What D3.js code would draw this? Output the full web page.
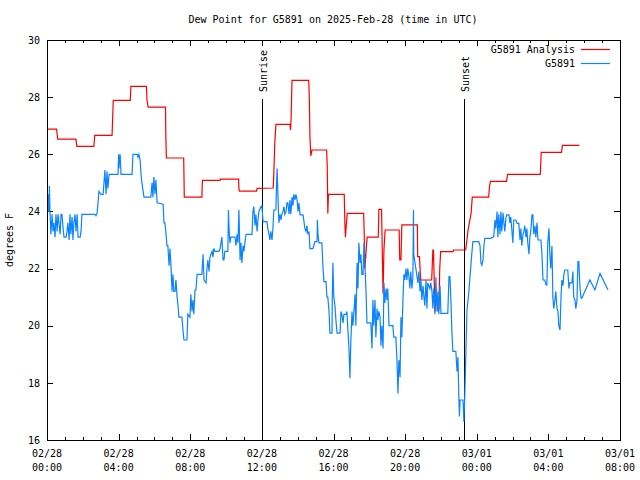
<!DOCTYPE html>
<html><head><meta charset="utf-8">
<script src="https://cdn.jsdelivr.net/npm/d3@7"></script>
<style>
body{margin:0;background:#fff}
svg text{font-family:"DejaVu Sans Mono","Liberation Mono",monospace;font-size:10px;fill:#000}
</style>
</head><body><svg id="c" width="640" height="480"></svg>
<script>
const chartTitle = "Dew Point for G5891 on 2025-Feb-28 (time in UTC)";
const yAxisLabel = "degrees F";
const startTime = "2025-02-28T00:00:00Z";
const endTime = "2025-03-01T08:00:00Z";
const yTickValues = [16, 18, 20, 22, 24, 26, 28, 30];
const seriesNames = ["G5891 Analysis", "G5891"];
const seriesColors = ["#ff0000", "#0a84ff"];
const sunEvents = [
  {label: "Sunrise", minute: 721},
  {label: "Sunset", minute: 1398}
];
// [minutes after 02/28 00:00 UTC, degrees F]
const analysis = [[0,26.88],[32,26.88],[34,26.7],[36,26.53],[97,26.53],[100,26.28],[157,26.28],[160,26.66],
[218,26.66],[220,27.26],[222,27.89],[279,27.89],[281,28.38],[333,28.38],[335,27.9],[339,27.65],[397,27.65],
[398,26.73],[400,25.87],[458,25.87],[459,25.22],[460,24.5],[519,24.5],[520,24.9],[521,25.09],[580,25.09],
[581,25.13],[642,25.13],[643,24.8],[645,24.71],[702,24.71],[704,24.81],[758,24.82],[760,25.31],[763,26.33],
[767,27.05],[814,27.05],[816,26.85],[818,27.26],[821,28.59],[877,28.59],[879,27.96],[881,26.62],[884,25.94],
[888,26.15],[937,26.15],[939,25.59],[941,23.93],[943,24.6],[996,24.6],[998,23.6],[1000,23.1],[1002,23.4],
[1006,23.93],[1061,23.93],[1063,23.2],[1065,22.0],[1068,22.4],[1071,22.9],[1073,23.1],[1110,23.1],[1112,24.07],
[1121,24.07],[1126,21.13],[1129,22.65],[1133,23.35],[1180,23.35],[1182,22.3],[1186,22.3],[1189,23.53],
[1241,23.53],[1242,22.42],[1248,22.42],[1252,21.6],[1289,21.6],[1293,22.65],[1295,22.65],[1300,20.49],
[1304,21.13],[1310,20.5],[1313,20.6],[1316,22.0],[1319,22.59],[1361,22.59],[1362,22.65],[1403,22.65],
[1407,23.0],[1411,23.35],[1416,23.64],[1421,23.93],[1425,24.5],[1480,24.5],[1483,24.9],[1486,25.05],
[1540,25.05],[1543,25.3],[1653,25.3],[1656,26.07],[1724,26.07],[1727,26.31],[1784,26.31]];
const observed = [[0,24.0],[3,24.0],[5,24.6],[7,24.0],[8,24.9],[10,24.0],[13,23.2],[17,23.9],[20,23.3],[23,23.6],
[27,23.1],[30,23.9],[34,23.3],[37,23.9],[40,23.6],[44,23.2],[47,23.9],[50,23.9],[54,23.4],[57,23.1],[64,23.1],
[67,23.3],[70,23.6],[74,23.0],[77,23.9],[80,23.2],[84,23.8],[87,23.0],[90,23.6],[94,23.9],[97,23.3],[101,23.9],
[104,23.1],[111,23.1],[114,23.3],[117,23.9],[161,23.9],[164,23.85],[168,23.95],[171,24.3],[174,24.7],[181,24.6],
[188,24.6],[191,25.0],[194,25.45],[198,24.6],[201,25.4],[204,24.8],[208,25.3],[238,25.3],[240,26.0],[241,25.5],
[245,26.0],[248,25.3],[285,25.3],[288,26.0],[302,26.0],[305,25.9],[308,26.0],[312,25.8],[315,25.3],[318,25.0],
[325,24.5],[348,24.5],[352,25.0],[355,24.5],[358,25.2],[362,24.6],[365,25.1],[369,24.3],[389,24.25],[392,23.6],
[395,23.6],[399,23.2],[402,22.8],[405,22.8],[409,22.1],[412,22.7],[415,22.2],[419,21.2],[422,21.8],[425,21.2],
[429,21.2],[432,21.6],[436,21.0],[439,20.7],[442,20.3],[452,20.3],[456,19.8],[459,19.5],[469,19.5],[472,20.4],
[479,20.3],[482,21.1],[486,20.5],[489,20.9],[492,20.4],[496,21.25],[499,21.25],[503,21.8],[519,21.8],[523,22.5],
[526,21.6],[533,21.5],[536,22.0],[539,22.3],[543,21.9],[546,22.4],[553,22.6],[556,22.4],[559,22.7],[563,22.6],
[576,22.6],[580,22.7],[586,23.1],[590,22.3],[593,22.3],[596,22.6],[606,22.6],[608,24.05],[610,23.4],[613,22.9],
[616,23.1],[630,23.1],[633,22.8],[637,23.2],[640,22.9],[643,24.05],[647,22.3],[650,22.9],[653,22.2],[657,22.8],
[660,22.6],[663,22.9],[667,23.2],[687,23.2],[690,24.0],[693,24.17],[697,23.5],[700,23.9],[704,23.3],[707,23.7],
[710,24.0],[717,24.17],[720,24.2],[724,23.64],[737,23.64],[740,23.4],[744,23.2],[747,23.0],[750,23.3],[754,23.0],
[757,23.4],[760,24.05],[767,24.05],[769,24.9],[771,25.5],[774,24.5],[777,23.6],[781,23.9],[784,23.7],[787,23.9],
[791,24.0],[794,24.17],[797,23.9],[801,24.0],[804,24.3],[807,24.3],[811,23.9],[814,24.4],[817,23.9],[821,24.5],
[824,24.2],[827,24.6],[831,24.4],[834,24.6],[838,24.4],[841,24.0],[844,24.3],[848,23.88],[858,23.88],[861,23.65],
[864,23.4],[868,23.3],[871,23.5],[874,23.2],[878,23.3],[881,22.7],[891,22.7],[894,22.8],[898,22.94],[905,22.94],
[906,23.7],[908,23.2],[911,22.9],[921,22.9],[925,22.0],[928,21.54],[935,21.54],[938,21.0],[941,21.0],[945,20.5],
[948,19.74],[955,19.74],[956,21.0],[958,22.2],[961,21.0],[965,20.7],[968,20.2],[972,19.74],[982,19.74],[985,20.5],
[988,20.4],[992,20.1],[995,20.4],[1002,20.4],[1005,20.5],[1008,19.9],[1012,19.2],[1015,18.16],[1018,19.4],
[1022,20.5],[1025,20.0],[1028,20.4],[1032,21.1],[1035,20.0],[1039,22.2],[1042,21.3],[1045,22.9],[1049,22.2],
[1052,22.5],[1055,21.8],[1059,21.8],[1062,22.9],[1065,22.2],[1069,21.2],[1072,20.1],[1085,20.1],[1089,19.2],
[1092,20.9],[1095,20.0],[1099,20.9],[1102,19.6],[1106,20.6],[1109,20.2],[1112,20.5],[1116,20.3],[1119,19.3],
[1122,20.0],[1126,19.2],[1129,21.5],[1132,20.8],[1136,21.3],[1139,20.9],[1142,21.3],[1146,20.0],[1159,20.0],
[1162,19.6],[1169,19.6],[1173,18.7],[1176,17.63],[1179,18.8],[1183,18.2],[1186,20.3],[1189,19.6],[1193,21.0],
[1196,21.8],[1199,21.6],[1203,22.0],[1206,21.6],[1209,22.0],[1213,21.7],[1216,21.3],[1219,21.9],[1223,21.3],
[1226,21.7],[1228,24.05],[1229,22.5],[1233,22.2],[1236,22.0],[1243,21.5],[1246,21.9],[1250,21.2],[1253,21.6],
[1256,20.9],[1260,21.4],[1263,21.0],[1266,20.7],[1270,21.6],[1273,20.6],[1276,21.5],[1283,21.3],[1286,21.5],
[1290,21.2],[1293,20.6],[1296,21.3],[1300,20.4],[1303,21.7],[1307,20.5],[1310,21.2],[1313,20.4],[1317,21.4],
[1320,20.43],[1343,20.43],[1347,21.72],[1350,21.72],[1353,21.0],[1357,19.73],[1360,19.1],[1370,19.1],[1374,18.4],
[1377,18.9],[1380,17.5],[1382,16.82],[1384,17.4],[1394,17.4],[1397,16.64],[1400,17.6],[1404,19.2],[1407,20.5],
[1414,21.25],[1420,22.07],[1424,22.59],[1427,22.94],[1447,22.94],[1451,22.8],[1454,22.2],[1457,22.12],[1461,22.3],
[1464,22.8],[1467,23.06],[1487,23.06],[1497,23.12],[1501,23.7],[1504,23.4],[1508,24.0],[1511,23.1],[1514,23.9],
[1518,23.2],[1521,24.0],[1524,23.3],[1528,23.95],[1531,23.6],[1534,23.3],[1538,23.8],[1541,23.88],[1548,23.88],
[1551,23.6],[1554,23.8],[1558,23.3],[1561,22.9],[1564,23.7],[1571,23.7],[1575,23.58],[1581,23.58],[1585,23.0],
[1588,23.4],[1591,22.8],[1595,23.2],[1598,23.3],[1601,23.5],[1605,23.1],[1608,23.4],[1611,22.9],[1615,22.5],
[1618,23.1],[1621,23.3],[1625,23.88],[1628,23.88],[1631,23.2],[1635,23.5],[1638,23.1],[1642,23.6],[1645,23.0],
[1655,23.0],[1658,22.6],[1662,21.6],[1668,21.6],[1672,21.43],[1675,21.43],[1678,22.9],[1682,23.41],[1685,22.5],
[1688,22.0],[1692,22.8],[1695,21.0],[1698,20.6],[1702,20.9],[1705,21.2],[1709,20.6],[1712,20.5],[1715,20.0],
[1719,19.85],[1722,20.9],[1725,21.6],[1729,21.4],[1732,21.8],[1735,21.95],[1745,21.95],[1749,21.3],[1752,21.5],
[1759,21.5],[1762,21.9],[1765,21.0],[1769,20.9],[1772,20.6],[1776,20.9],[1779,22.24],[1782,22.24],[1786,21.3],
[1789,21.0],[1792,20.96],[1819,21.6],[1836,21.25],[1853,21.83],[1880,21.25]];

const t0 = new Date(startTime);
const toDate = m => new Date(t0.getTime() + m * 60000);

const svg = d3.select("#c");
const x = d3.scaleUtc().domain([t0, new Date(endTime)]).range([47, 620]);
const y = d3.scaleLinear().domain([16, 30]).range([440, 40]);

function styleAxis(g) {
  g.select(".domain").remove();
  g.selectAll("line").attr("stroke", "#000").attr("shape-rendering", "crispEdges");
  g.attr("font-family", null).attr("font-size", null);
}

// minor x ticks
svg.append("g").attr("transform", "translate(0,440)")
  .call(d3.axisBottom(x).ticks(d3.utcHour.every(1)).tickSize(-3).tickFormat("")).call(styleAxis);
svg.append("g").attr("transform", "translate(0,40)")
  .call(d3.axisTop(x).ticks(d3.utcHour.every(1)).tickSize(-3).tickFormat("")).call(styleAxis);
// major x ticks
svg.append("g").attr("transform", "translate(0,440)")
  .call(d3.axisBottom(x).ticks(d3.utcHour.every(4)).tickSize(-6).tickFormat("")).call(styleAxis);
svg.append("g").attr("transform", "translate(0,40)")
  .call(d3.axisTop(x).ticks(d3.utcHour.every(4)).tickSize(-6).tickFormat("")).call(styleAxis);
// y ticks
svg.append("g").attr("transform", "translate(47,0)")
  .call(d3.axisLeft(y).tickValues(yTickValues).tickSize(-6).tickPadding(7).tickFormat(d3.format("d"))).call(styleAxis);
svg.append("g").attr("transform", "translate(620,0)")
  .call(d3.axisRight(y).tickValues(yTickValues).tickSize(-6).tickFormat("")).call(styleAxis);

// two-line x labels
const fmtDay = d3.utcFormat("%m/%d"), fmtHour = d3.utcFormat("%H:%M");
const xl = svg.append("g");
x.ticks(d3.utcHour.every(4)).forEach(t => {
  xl.append("text").attr("x", x(t)).attr("y", 457).attr("text-anchor", "middle").text(fmtDay(t));
  xl.append("text").attr("x", x(t)).attr("y", 471).attr("text-anchor", "middle").text(fmtHour(t));
});

// sunrise / sunset
sunEvents.forEach(e => {
  const sx = Math.round(x(toDate(e.minute))) + 0.5;
  svg.append("line").attr("x1", sx).attr("x2", sx).attr("y1", 99).attr("y2", 440)
    .attr("stroke", "#000").attr("shape-rendering", "crispEdges");
  svg.append("text").attr("transform", `translate(${sx + 4},92) rotate(-90)`).text(e.label);
});

// series
const line = d3.line().x(d => x(toDate(d[0]))).y(d => y(d[1]));
svg.append("path").datum(analysis).attr("d", line).attr("fill", "none")
  .attr("stroke", seriesColors[0]).attr("stroke-width", 1.2);
svg.append("path").datum(observed).attr("d", line).attr("fill", "none")
  .attr("stroke", seriesColors[1]).attr("stroke-width", 1.2);

// frame
svg.append("rect").attr("x", 47.5).attr("y", 40.5).attr("width", 573).attr("height", 400)
  .attr("fill", "none").attr("stroke", "#000").attr("shape-rendering", "crispEdges");

// legend
seriesNames.forEach((n, i) => {
  const ly = 49 + i * 14;
  svg.append("text").attr("x", 575).attr("y", ly + 4).attr("text-anchor", "end").text(n);
  svg.append("line").attr("x1", 581).attr("x2", 610).attr("y1", ly + 0.5).attr("y2", ly + 0.5)
    .attr("stroke", seriesColors[i]).attr("stroke-width", 1.2);
});

// title and y label
svg.append("text").attr("x", 333).attr("y", 23).attr("text-anchor", "middle").text(chartTitle);
svg.append("text").attr("transform", "translate(13,240) rotate(-90)").attr("text-anchor", "middle").text(yAxisLabel);
</script></body></html>
